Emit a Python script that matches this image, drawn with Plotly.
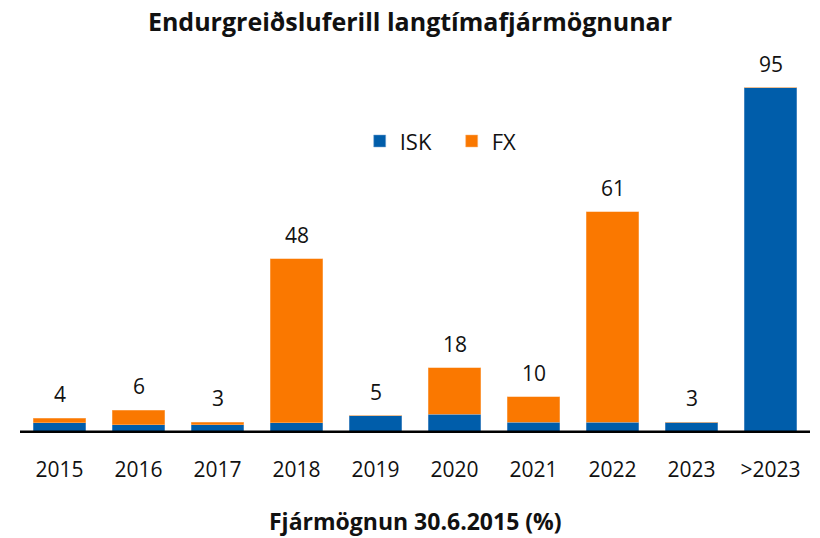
import plotly.graph_objects as go

categories = ["2015", "2016", "2017", "2018", "2019", "2020", "2021", "2022", "2023", ">2023"]
isk = [2.8, 2.3, 2.3, 2.8, 4.7, 5.1, 2.9, 2.9, 3.0, 95.0]
fx = [1.2, 4.0, 0.6, 45.2, 0.0, 12.9, 7.1, 58.0, 0.0, 0.0]
total_labels = ["4", "6", "3", "48", "5", "18", "10", "61", "3", "95"]
totals = [a + b for a, b in zip(isk, fx)]

BLUE = "#005DAA"
ORANGE = "#FA7800"
FONT = "Open Sans"

fig = go.Figure()
fig.add_trace(go.Bar(name="ISK", x=categories, y=isk, marker=dict(color=BLUE, line=dict(color="#7fa9d4", width=0.5))))
fig.add_trace(go.Bar(name="FX", x=categories, y=fx, marker=dict(color=ORANGE, line=dict(color="#fbb77a", width=0.5))))

for i, (t, lab) in enumerate(zip(totals, total_labels)):
    fig.add_annotation(x=i, y=t, text=lab, showarrow=False, yanchor="bottom", yshift=8,
                       font=dict(size=21, family=FONT, color="#111"))

fig.add_annotation(text="<b>Fjármögnun 30.6.2015 (%)</b>", xref="paper", yref="paper", x=0.5, y=-0.233,
                   xanchor="center", yanchor="middle", showarrow=False,
                   font=dict(size=23, family=FONT, color="#111"))

fig.update_layout(
    barmode="stack",
    bargap=0.33,
    width=820, height=538,
    margin=dict(l=20, r=10, t=55, b=105),
    paper_bgcolor="white", plot_bgcolor="white",
    font=dict(family=FONT, color="#111"),
    title=dict(text="<b>Endurgreiðsluferill langtímafjármögnunar</b>", x=0.5, xanchor="center",
               y=1 - 22 / 538, yanchor="middle", font=dict(size=25, family=FONT, color="#111")),
    legend=dict(orientation="h", x=0.430, xanchor="left", y=0.772, yanchor="middle",
                font=dict(size=22, family=FONT), itemwidth=30, traceorder="normal",
                entrywidth=47, entrywidthmode="pixels",
                bgcolor="rgba(0,0,0,0)"),
    showlegend=True,
)
fig.update_xaxes(showline=False, showgrid=False, ticks="", tickfont=dict(size=21, family=FONT),
                 automargin=False, range=[-0.5, 9.5], ticklabelstandoff=22)
fig.update_yaxes(visible=False, range=[0, 104], automargin=False)
fig.add_shape(type="line", xref="paper", yref="y", x0=0, x1=1, y0=0, y1=0,
              line=dict(color="black", width=5))

fig.write_html("out.html", config={"displayModeBar": False},
               post_script="document.body.style.margin='0';document.body.style.overflow='hidden';")
